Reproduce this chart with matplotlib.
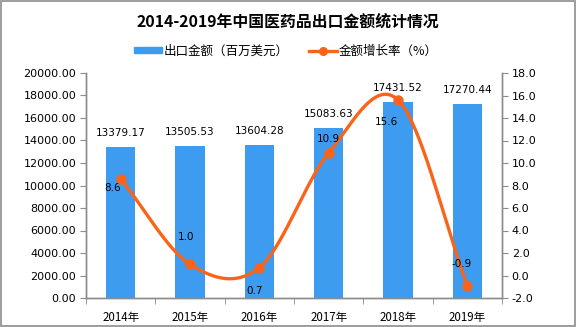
import numpy as np
import matplotlib
matplotlib.use("Agg")
import matplotlib.pyplot as plt
from matplotlib.patches import Rectangle
from matplotlib.lines import Line2D
from matplotlib.ticker import FixedLocator, NullFormatter

plt.rcParams['font.family'] = ['Noto Sans CJK SC', 'DejaVu Sans']

title = "2014-2019年中国医药品出口金额统计情况"
categories = ["2014年", "2015年", "2016年", "2017年", "2018年", "2019年"]
export_value = [13379.17, 13505.53, 13604.28, 15083.63, 17431.52, 17270.44]
growth_rate = [8.6, 1.0, 0.7, 10.9, 15.6, -0.9]
legend_bar = "出口金额（百万美元）"
legend_line = "金额增长率（%）"
left_ticks = [0, 2000, 4000, 6000, 8000, 10000, 12000, 14000, 16000, 18000, 20000]
right_ticks = [-2, 0, 2, 4, 6, 8, 10, 12, 14, 16, 18]

# label offsets in pixels (dx, dy) for growth labels
rate_label_offsets = [(-8, -9), (-4, 27), (-5, -23), (0, 14), (-12, -22), (-6, 22)]

BLUE = "#3d9cf0"
ORANGE = "#fa6419"
GRAY = "#8c8c8c"

fig = plt.figure(figsize=(5.76, 3.27), dpi=100)
W, H = 576, 327
ax = fig.add_axes([86 / W, 1 - 298 / H, (502 - 86) / W, (298 - 73) / H])
ax2 = ax.twinx()

x = np.arange(len(categories))
ax.bar(x, export_value, width=0.42, color=BLUE, zorder=2)
ax.set_xlim(-0.5, len(categories) - 0.5)
ax.set_ylim(0, 20000)
ax.set_yticks(left_ticks)
ax.set_yticklabels([f"{v:.2f}" for v in left_ticks], fontsize=8, family=['DejaVu Sans'])
ax.set_xticks(x)
ax.set_xticklabels(categories, fontsize=8.3)
ax.tick_params(axis='x', which='major', length=0, pad=9)
ax.xaxis.set_minor_locator(FixedLocator(np.arange(-0.5, len(categories), 1.0)))
ax.xaxis.set_minor_formatter(NullFormatter())
ax.tick_params(axis='x', which='minor', length=4, color=GRAY)
ax.tick_params(axis='y', length=4, color=GRAY, pad=3)

for xi, v in zip(x, export_value):
    ax.annotate(f"{v:.2f}", (xi, v), xytext=(0, 9), textcoords='offset pixels',
                ha='center', va='bottom', fontsize=7.5, family=['DejaVu Sans'])

# smooth curve (Catmull-Rom style Hermite)
y = np.array(growth_rate, dtype=float)
n = len(y)
m = np.zeros(n)
m[0] = y[1] - y[0]
m[-1] = y[-1] - y[-2]
for i in range(1, n - 1):
    m[i] = (y[i + 1] - y[i - 1]) / 2
xs, ys = [], []
for i in range(n - 1):
    t = np.linspace(0, 1, 40)
    h00 = (1 + 2 * t) * (1 - t) ** 2
    h10 = t * (1 - t) ** 2
    h01 = t ** 2 * (3 - 2 * t)
    h11 = t ** 2 * (t - 1)
    xs.append(x[i] + t)
    ys.append(h00 * y[i] + h10 * m[i] + h01 * y[i + 1] + h11 * m[i + 1])
xs = np.concatenate(xs)
ys = np.concatenate(ys)
ax2.plot(xs, ys, color=ORANGE, lw=2.4, zorder=3)
ax2.plot(x, y, 'o', color=ORANGE, ms=6.5, zorder=4)
ax2.set_ylim(-2, 18)
ax2.set_yticks(right_ticks)
ax2.set_yticklabels([f"{v:.1f}" for v in right_ticks], fontsize=8, family=['DejaVu Sans'])
ax2.tick_params(axis='y', length=4, color=GRAY, pad=3)

for xi, v, (dx, dy) in zip(x, growth_rate, rate_label_offsets):
    ax2.annotate(f"{v:.1f}", (xi, v), xytext=(dx, dy), textcoords='offset pixels',
                 ha='center', va='center', fontsize=7.5, family=['DejaVu Sans'])

for a in (ax, ax2):
    a.spines['top'].set_visible(False)
    for s in ('left', 'right', 'bottom'):
        a.spines[s].set_color(GRAY)
        a.spines[s].set_linewidth(1)

fig.text(288 / W, 1 - 22 / H, title, ha='center', va='center', fontsize=11.4, fontweight='bold')

handles = [Rectangle((0, 0), 1, 1, color=BLUE),
           Line2D([], [], color=ORANGE, lw=2.4, marker='o', ms=5.5)]
fig.legend(handles, [legend_bar, legend_line], loc='center', bbox_to_anchor=(286 / W, 1 - 51 / H),
           ncol=2, frameon=False, fontsize=9, handlelength=2.2, handleheight=0.45,
           handletextpad=0.2, columnspacing=1.6)

fig.add_artist(Rectangle((0.001, 0.002), 0.997, 0.995, transform=fig.transFigure,
                         fill=False, edgecolor=GRAY, lw=1.2))

fig.savefig("out.png", dpi=100)
